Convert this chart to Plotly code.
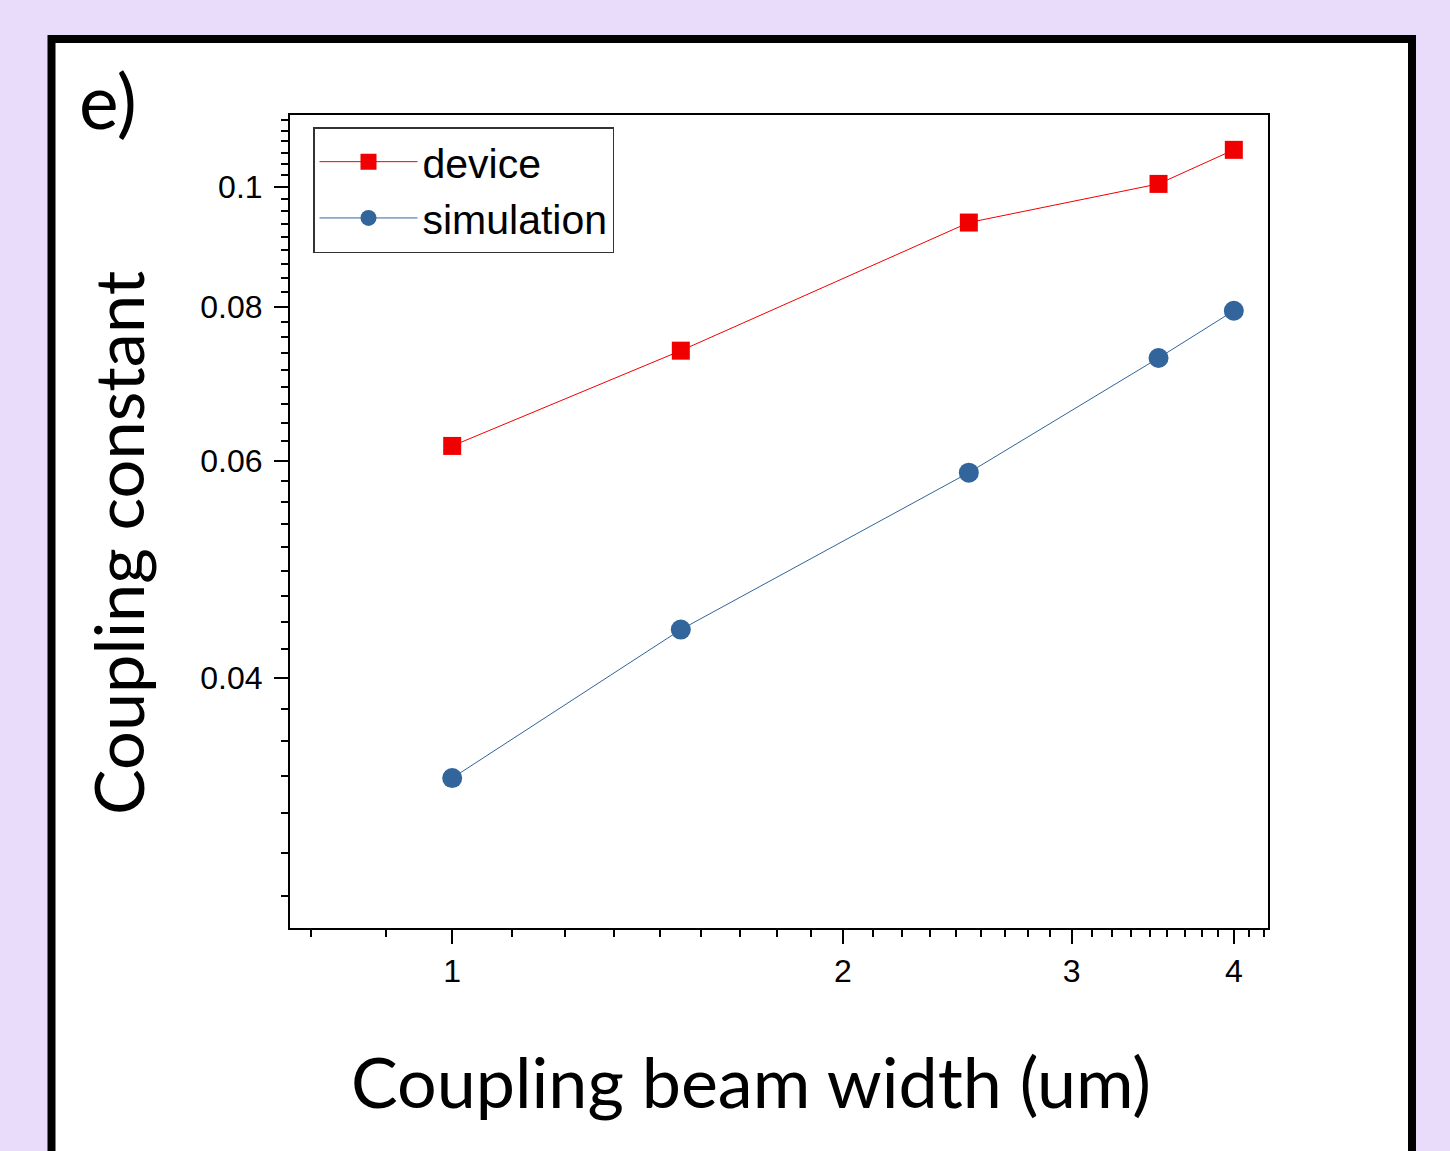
import plotly.graph_objects as go
import math

# ---- data ----
beam_width = [1.0, 1.5, 2.5, 3.5, 4.0]
device = [0.0617, 0.0737, 0.0936, 0.1006, 0.1072]
simulation = [0.0332, 0.0438, 0.0587, 0.0727, 0.0794]

x_ticks = [1, 2, 3, 4]
x_ticktext = ["1", "2", "3", "4"]
y_ticks = [0.04, 0.06, 0.08, 0.1]
y_ticktext = ["0.04", "0.06", "0.08", "0.1"]

# minor ticks: 8 linear subdivisions between majors
x_minor = [m + k / 9 for m in [0, 1, 2, 3, 4] for k in range(1, 9)]
x_minor = [v for v in x_minor if 0.75 <= v <= 4.25]
y_minor = [m + k * 0.02 / 9 for m in [0.02, 0.04, 0.06, 0.08, 0.1] for k in range(1, 9)]
y_minor = [v for v in y_minor if 0.0251 <= v <= 0.1144]

W, H = 1450, 1151
L, R, T, B = 290, 1268, 115, 928
pw, ph = R - L, B - T
BG = "#E9DBFA"


def px(xp):
    return (xp - L) / pw


def py(yp):
    return (B - yp) / ph


fig = go.Figure()
fig.add_trace(go.Scatter(
    x=beam_width, y=device, name="device", mode="lines+markers",
    line=dict(color="#F00000", width=1),
    marker=dict(symbol="square", size=18, color="#F00000"),
))
fig.add_trace(go.Scatter(
    x=beam_width, y=simulation, name="simulation", mode="lines+markers",
    line=dict(color="#31659B", width=1),
    marker=dict(symbol="circle", size=20, color="#31659B"),
))

tickfont = dict(family="Liberation Sans, Arial", size=32, color="black")

fig.update_layout(
    width=W, height=H,
    margin=dict(l=L, r=W - R, t=T, b=H - B, autoexpand=False),
    paper_bgcolor=BG,
    plot_bgcolor="white",
    showlegend=True,
    legend=dict(
        x=px(313), y=py(127), xanchor="left", yanchor="top",
        bgcolor="white", bordercolor="#333333", borderwidth=1.5,
        font=dict(family="Liberation Sans, Arial", size=41, color="black"),
        itemwidth=98, tracegroupgap=0,
    ),
    xaxis=dict(
        type="log", range=[math.log10(0.75), math.log10(4.25)],
        tickmode="array", tickvals=x_ticks, ticktext=x_ticktext,
        ticks="outside", ticklen=14, tickwidth=2, tickcolor="black",
        showline=True, linecolor="black", linewidth=2, mirror=True,
        showgrid=False, zeroline=False, tickfont=tickfont,
        minor=dict(tickmode="array", tickvals=x_minor, ticks="outside",
                   ticklen=7, tickwidth=2, tickcolor="black", showgrid=False),
    ),
    yaxis=dict(
        type="log", range=[math.log10(0.0251), math.log10(0.1144)],
        tickmode="array", tickvals=y_ticks, ticktext=y_ticktext,
        ticks="outside", ticklen=14, tickwidth=2, tickcolor="black",
        showline=True, linecolor="black", linewidth=2, mirror=True,
        showgrid=False, zeroline=False, tickfont=tickfont,
        ticklabelstandoff=5,
        minor=dict(tickmode="array", tickvals=y_minor, ticks="outside",
                   ticklen=7, tickwidth=2, tickcolor="black", showgrid=False),
    ),
    shapes=[dict(
        type="rect", xref="paper", yref="paper",
        x0=px(51.5), x1=px(1412), y0=py(1175), y1=py(39),
        line=dict(color="black", width=8), fillcolor="white", layer="below",
    )],
    annotations=[
        dict(text="e)", xref="paper", yref="paper", x=px(77), y=py(100),
             xanchor="left", yanchor="middle", showarrow=False,
             font=dict(family="Lato", size=75, color="black")),
        dict(text="Coupling constant", xref="paper", yref="paper",
             x=px(117), y=py(543), xanchor="center", yanchor="middle",
             textangle=-90, showarrow=False,
             font=dict(family="Lato", size=68.5, color="black")),
        dict(text="Coupling beam width (um)", xref="paper", yref="paper",
             x=px(751), y=py(1081), xanchor="center", yanchor="middle",
             showarrow=False,
             font=dict(family="Lato", size=70, color="black")),
    ],
)

fig.write_html(
    "out.html",
    config={"displayModeBar": False},
    post_script=(
        "document.body.style.margin='0';"
        "document.body.style.padding='0';"
        "document.body.style.background='" + BG + "';"
    ),
)
